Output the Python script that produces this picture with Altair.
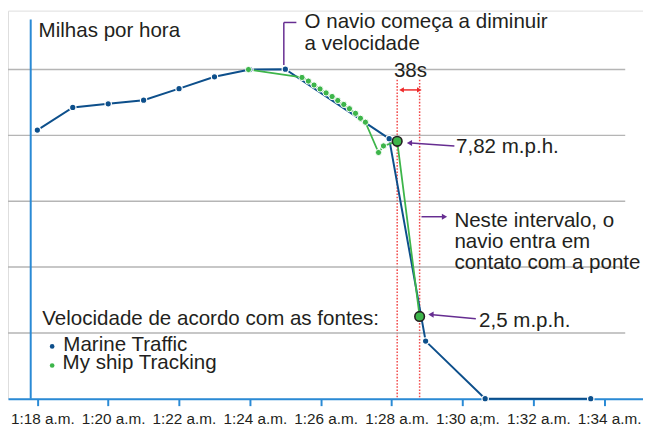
import altair as alt
import pandas as pd

# ---------------- data (minutes after 1:00 a.m., speed in mph) ----------------
mt_time = [18.0, 19.0, 20.0, 21.0, 22.0, 23.0, 24.0, 25.0, 27.93, 28.96, 30.64, 33.62]
mt_speed = [8.16, 8.85, 8.96, 9.07, 9.42, 9.78, 10.0, 10.01, 7.9, 1.75, 0.0, 0.0]

ms_time = [23.96, 25.47, 25.65, 25.81, 25.98, 26.15, 26.32, 26.48, 26.65, 26.81,
           26.98, 27.12, 27.26, 27.63, 27.77, 28.157, 28.79]
ms_speed = [10.0, 9.76, 9.65, 9.53, 9.41, 9.29, 9.18, 9.06, 8.94, 8.81,
            8.67, 8.52, 8.40, 7.48, 7.68, 7.82, 2.5]

key_time = [28.157, 28.79]      # 38 s apart
key_speed = [7.82, 2.5]

grid_values = [2, 4, 6, 8, 10]
tick_minutes = [18, 20, 22, 24, 26, 28, 30, 32, 34]
tick_labels = ["1:18 a.m.", "1:20 a.m.", "1:22 a.m.", "1:24 a.m.", "1:26 a.m.",
               "1:28 a.m.", "1:30 a;m.", "1:32 a.m.", "1:34 a.m."]

# ---------------- styling ----------------
BLUE = "#0d4f8b"
GREEN = "#3db54a"
AXIS = "#2a8ad5"
GRID = "#b5b5b5"
PURPLE = "#662d91"
RED = "#ee2a2a"
INK = "#231f20"
FONT = "Liberation Sans"
FS = 20.8

W, H = 643, 393
xscale = alt.Scale(domain=[17.172, 35.095], nice=False, zero=False)
yscale = alt.Scale(domain=[0, 11.79], nice=False, zero=False)

label_expr = "''"
for m, lab in zip(reversed(tick_minutes), reversed(tick_labels)):
    label_expr = f"datum.value == {m} ? '{lab}' : ({label_expr})"

xaxis = alt.Axis(values=tick_minutes, labelExpr=label_expr, title=None,
                 grid=False, domainColor=AXIS, domainWidth=2,
                 tickColor=AXIS, tickWidth=2, tickSize=7,
                 labelFont=FONT, labelFontSize=15.5,
                 labelColor=INK, labelPadding=18, labelBaseline="alphabetic",
                 labelOffset=5, labelOverlap=False, labelFlush=False,
                 labelBound=False)
X = alt.X("t:Q", scale=xscale, axis=xaxis)
Y = alt.Y("v:Q", scale=yscale, axis=None)

mt = pd.DataFrame({"t": mt_time, "v": mt_speed})
ms = pd.DataFrame({"t": ms_time, "v": ms_speed})
key = pd.DataFrame({"t": key_time, "v": key_speed})
grid = pd.DataFrame({"g": grid_values})

one = alt.Data(values=[{"a": 0}])


def text(s, x, y, size=FS, color=INK, align="left"):
    return alt.Chart(one).mark_text(
        text=s, font=FONT, fontSize=size, color=color, align=align,
        baseline="alphabetic").encode(x=alt.value(x), y=alt.value(y))


def seg(x1, y1, x2, y2, color, width=1.5):
    return alt.Chart(one).mark_rule(color=color, strokeWidth=width).encode(
        x=alt.value(x1), y=alt.value(y1), x2=alt.value(x2), y2=alt.value(y2))


def head(x, y, shape, color, size=38):
    return alt.Chart(one).mark_point(shape=shape, filled=True, color=color,
                                     size=size, opacity=1).encode(
        x=alt.value(x), y=alt.value(y))


red_lines = alt.Chart(key).mark_rule(color=RED, strokeWidth=1.5, strokeDash=[1.6, 1.6],
                                     opacity=0.85).encode(
    x=X, y=alt.value(70), y2=alt.value(H))

gridlines = alt.Chart(grid).mark_rule(color=GRID, strokeWidth=1.5).encode(
    y=alt.Y("g:Q", scale=yscale, axis=None), x=alt.value(0), x2=alt.value(625))

yaxis = seg(23, 9, 23, H, AXIS, width=2)

blue_line = alt.Chart(mt).mark_line(color=BLUE, strokeWidth=2).encode(x=X, y=Y)
green_line = alt.Chart(ms).mark_line(color=GREEN, strokeWidth=1.8).encode(x=X, y=Y)
blue_pts = alt.Chart(mt).mark_circle(color=BLUE, size=42, opacity=1,
                                     stroke="white", strokeWidth=1.2).encode(x=X, y=Y)
green_pts = alt.Chart(ms).mark_circle(color=GREEN, size=40, opacity=1,
                                      stroke="white", strokeWidth=1.0).encode(x=X, y=Y)
key_pts = alt.Chart(key).mark_circle(color=GREEN, size=95, opacity=1,
                                     stroke=INK, strokeWidth=1.6).encode(x=X, y=Y)

annotations = [
    text("Milhas por hora", 31, 27),
    # bracket + title
    seg(279.3, 12, 279.3, 55, PURPLE),
    seg(279.3, 12, 292, 12, PURPLE),
    text("O navio começa a diminuir", 300.3, 18),
    text("a velocidade", 300.3, 40.3),
    # 38 s
    text("38s", 407.5, 67, align="center"),
    seg(399, 80.3, 416, 80.3, RED, width=1.5),
    head(398.5, 80.3, "triangle-left", RED, 30),
    head(416.5, 80.3, "triangle-right", RED, 30),
    # 7,82
    seg(452, 137, 408, 134, PURPLE),
    head(406.5, 134, "triangle-left", PURPLE),
    text("7,82 m.p.h.", 453.7, 143.7),
    # interval
    seg(418.7, 208.7, 440, 208.7, PURPLE),
    head(442, 208.7, "triangle-right", PURPLE),
    text("Neste intervalo, o", 452, 218.7),
    text("navio entra em", 452, 240.3),
    text("contato com a ponte", 452, 262),
    # 2,5
    seg(473.7, 312, 430, 307.9, PURPLE),
    head(428.3, 307.8, "triangle-left", PURPLE),
    text("2,5 m.p.h.", 477, 320.3),
    # legend
    text("Velocidade de acordo com as fontes:", 34.7, 318.7),
    alt.Chart(one).mark_circle(color=BLUE, size=22, opacity=1).encode(
        x=alt.value(44.7), y=alt.value(340)),
    alt.Chart(one).mark_circle(color=GREEN, size=22, opacity=1).encode(
        x=alt.value(44.7), y=alt.value(359.3)),
    text("Marine Traffic", 56, 344.3),
    text("My ship Tracking", 55.3, 363),
]

chart = alt.layer(
    red_lines, gridlines, yaxis, blue_line, green_line, blue_pts, green_pts, key_pts,
    *annotations
).properties(
    width=W, height=H,
    autosize=alt.AutoSizeParams(type="none"),
    padding={"left": 0, "top": 0, "right": 0, "bottom": 28},
).configure_view(stroke=None).configure(background="white")

chart.save("out.html", embed_options={"renderer": "svg", "actions": False})
